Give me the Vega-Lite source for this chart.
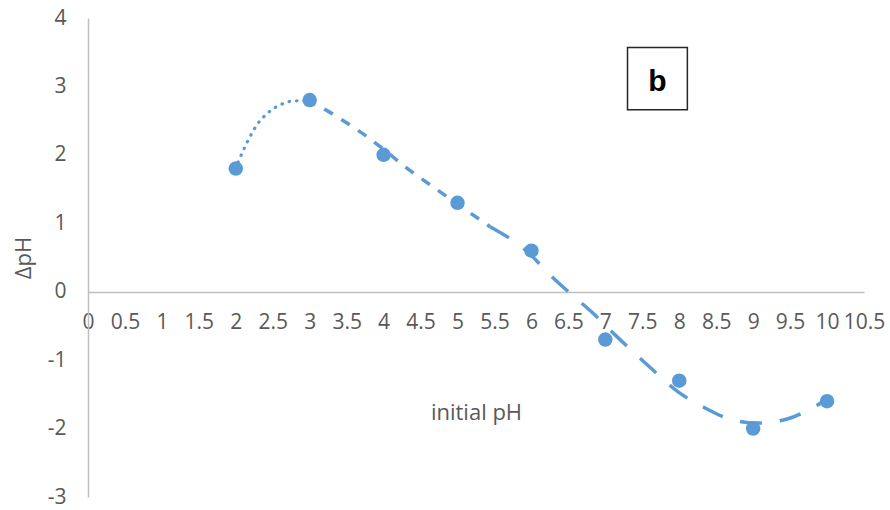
{
  "$schema": "https://vega.github.io/schema/vega-lite/v6.json",
  "width": 776,
  "height": 479,
  "autosize": {"type": "none"},
  "padding": {"left": 88, "top": 18, "right": 26, "bottom": 13},
  "background": "white",
  "config": {
    "view": {"stroke": null},
    "font": "Open Sans",
    "axis": {
      "grid": false, "ticks": false,
      "domainColor": "#bfbfbf", "domainWidth": 1.5,
      "labelFont": "Open Sans", "labelFontSize": 21, "labelColor": "#595959",
      "titleFont": "Open Sans", "titleFontSize": 22, "titleFontWeight": "normal", "titleColor": "#595959",
      "labelExpr": "'' + datum.value"
    },
    "axisX": {"offset": -205, "labelPadding": 19, "labelFlush": false, "labelOverlap": false, "titlePadding": 70},
    "axisY": {"labelPadding": 22, "titlePadding": 12}
  },
  "datasets": {
    "points": [
      {"pH": 2, "dpH": 1.8},
      {"pH": 3, "dpH": 2.8},
      {"pH": 4, "dpH": 2.0},
      {"pH": 5, "dpH": 1.3},
      {"pH": 6, "dpH": 0.6},
      {"pH": 7, "dpH": -0.7},
      {"pH": 8, "dpH": -1.3},
      {"pH": 9, "dpH": -2.0},
      {"pH": 10, "dpH": -1.6}
    ],
    "curve": [
      {"seg": "a", "pH": 2.03, "dpH": 1.89},
      {"seg": "a", "pH": 2.17, "dpH": 2.22},
      {"seg": "a", "pH": 2.28, "dpH": 2.43},
      {"seg": "a", "pH": 2.42, "dpH": 2.6},
      {"seg": "a", "pH": 2.6, "dpH": 2.73},
      {"seg": "a", "pH": 2.8, "dpH": 2.79},
      {"seg": "a", "pH": 2.95, "dpH": 2.79},
      {"seg": "b", "pH": 2.95, "dpH": 2.79},
      {"seg": "b", "pH": 3.23, "dpH": 2.65},
      {"seg": "b", "pH": 3.41, "dpH": 2.53},
      {"seg": "b", "pH": 3.77, "dpH": 2.27},
      {"seg": "b", "pH": 4.0, "dpH": 2.08},
      {"seg": "b", "pH": 4.31, "dpH": 1.81},
      {"seg": "b", "pH": 4.58, "dpH": 1.6},
      {"seg": "b", "pH": 5.0, "dpH": 1.28},
      {"seg": "b", "pH": 5.44, "dpH": 0.95},
      {"seg": "c", "pH": 5.44, "dpH": 0.95},
      {"seg": "c", "pH": 5.98, "dpH": 0.55},
      {"seg": "c", "pH": 6.21, "dpH": 0.29},
      {"seg": "c", "pH": 6.52, "dpH": -0.02},
      {"seg": "c", "pH": 6.82, "dpH": -0.3},
      {"seg": "c", "pH": 7.16, "dpH": -0.66},
      {"seg": "c", "pH": 7.6, "dpH": -1.1},
      {"seg": "c", "pH": 7.98, "dpH": -1.46},
      {"seg": "c", "pH": 8.35, "dpH": -1.7},
      {"seg": "c", "pH": 8.71, "dpH": -1.87},
      {"seg": "c", "pH": 9.05, "dpH": -1.92},
      {"seg": "c", "pH": 9.46, "dpH": -1.86},
      {"seg": "c", "pH": 9.88, "dpH": -1.65},
      {"seg": "c", "pH": 10.0, "dpH": -1.58}
    ],
    "label": [{"x1": 7.3, "x2": 8.11, "y1": 3.57, "y2": 2.66, "xm": 7.705, "ym": 3.07, "txt": "b"}]
  },
  "layer": [
    {
      "data": {"name": "points"},
      "mark": {"type": "point", "filled": true, "opacity": 1, "size": 210, "color": "#5b9bd5"},
      "encoding": {
        "x": {"field": "pH", "type": "quantitative", "scale": {"domain": [0, 10.5], "nice": false},
          "axis": {"values": [0, 0.5, 1, 1.5, 2, 2.5, 3, 3.5, 4, 4.5, 5, 5.5, 6, 6.5, 7, 7.5, 8, 8.5, 9, 9.5, 10, 10.5], "title": "initial pH", "labelFontSize": 21, "titleFontSize": 22, "labelExpr": "'' + datum.value"}},
        "y": {"field": "dpH", "type": "quantitative", "scale": {"domain": [-3, 4], "nice": false},
          "axis": {"values": [-3, -2, -1, 0, 1, 2, 3, 4], "title": "ΔpH", "labelFontSize": 21, "titleFontSize": 22, "labelExpr": "'' + datum.value"}}
      }
    },
    {
      "data": {"name": "curve"},
      "transform": [{"filter": "datum.seg == 'a'"}],
      "mark": {"type": "line", "interpolate": "monotone", "color": "#5b9bd5", "strokeWidth": 3.2, "strokeCap": "round", "strokeDash": [0.5, 7]},
      "encoding": {
        "x": {"field": "pH", "type": "quantitative",
          "axis": {"values": [0, 0.5, 1, 1.5, 2, 2.5, 3, 3.5, 4, 4.5, 5, 5.5, 6, 6.5, 7, 7.5, 8, 8.5, 9, 9.5, 10, 10.5], "title": "initial pH", "labelFontSize": 21, "titleFontSize": 22, "labelExpr": "'' + datum.value"}},
        "y": {"field": "dpH", "type": "quantitative",
          "axis": {"values": [-3, -2, -1, 0, 1, 2, 3, 4], "title": "ΔpH", "labelFontSize": 21, "titleFontSize": 22, "labelExpr": "'' + datum.value"}}
      }
    },
    {
      "data": {"name": "curve"},
      "transform": [{"filter": "datum.seg == 'b'"}],
      "mark": {"type": "line", "interpolate": "monotone", "color": "#5b9bd5", "strokeWidth": 3.5, "strokeDash": [10, 10]},
      "encoding": {
        "x": {"field": "pH", "type": "quantitative",
          "axis": {"values": [0, 0.5, 1, 1.5, 2, 2.5, 3, 3.5, 4, 4.5, 5, 5.5, 6, 6.5, 7, 7.5, 8, 8.5, 9, 9.5, 10, 10.5], "title": "initial pH", "labelFontSize": 21, "titleFontSize": 22, "labelExpr": "'' + datum.value"}},
        "y": {"field": "dpH", "type": "quantitative",
          "axis": {"values": [-3, -2, -1, 0, 1, 2, 3, 4], "title": "ΔpH", "labelFontSize": 21, "titleFontSize": 22, "labelExpr": "'' + datum.value"}}
      }
    },
    {
      "data": {"name": "curve"},
      "transform": [{"filter": "datum.seg == 'c'"}],
      "mark": {"type": "line", "interpolate": "monotone", "color": "#5b9bd5", "strokeWidth": 3.5, "strokeDash": [22, 18]},
      "encoding": {
        "x": {"field": "pH", "type": "quantitative",
          "axis": {"values": [0, 0.5, 1, 1.5, 2, 2.5, 3, 3.5, 4, 4.5, 5, 5.5, 6, 6.5, 7, 7.5, 8, 8.5, 9, 9.5, 10, 10.5], "title": "initial pH", "labelFontSize": 21, "titleFontSize": 22, "labelExpr": "'' + datum.value"}},
        "y": {"field": "dpH", "type": "quantitative",
          "axis": {"values": [-3, -2, -1, 0, 1, 2, 3, 4], "title": "ΔpH", "labelFontSize": 21, "titleFontSize": 22, "labelExpr": "'' + datum.value"}}
      }
    },
    {
      "data": {"name": "label"},
      "mark": {"type": "rect", "fill": "white", "stroke": "#262626", "strokeWidth": 1.5},
      "encoding": {
        "x": {"field": "x1", "type": "quantitative",
          "axis": {"values": [0, 0.5, 1, 1.5, 2, 2.5, 3, 3.5, 4, 4.5, 5, 5.5, 6, 6.5, 7, 7.5, 8, 8.5, 9, 9.5, 10, 10.5], "title": "initial pH", "labelFontSize": 21, "titleFontSize": 22, "labelExpr": "'' + datum.value"}},
        "x2": {"field": "x2"},
        "y": {"field": "y1", "type": "quantitative",
          "axis": {"values": [-3, -2, -1, 0, 1, 2, 3, 4], "title": "ΔpH", "labelFontSize": 21, "titleFontSize": 22, "labelExpr": "'' + datum.value"}},
        "y2": {"field": "y2"}
      }
    },
    {
      "data": {"name": "label"},
      "mark": {"type": "text", "font": "Liberation Sans", "fontWeight": "bold", "fontSize": 30, "color": "black", "baseline": "middle", "align": "center"},
      "encoding": {
        "x": {"field": "xm", "type": "quantitative",
          "axis": {"values": [0, 0.5, 1, 1.5, 2, 2.5, 3, 3.5, 4, 4.5, 5, 5.5, 6, 6.5, 7, 7.5, 8, 8.5, 9, 9.5, 10, 10.5], "title": "initial pH", "labelFontSize": 21, "titleFontSize": 22, "labelExpr": "'' + datum.value"}},
        "y": {"field": "ym", "type": "quantitative",
          "axis": {"values": [-3, -2, -1, 0, 1, 2, 3, 4], "title": "ΔpH", "labelFontSize": 21, "titleFontSize": 22, "labelExpr": "'' + datum.value"}},
        "text": {"field": "txt"}
      }
    }
  ]
}
